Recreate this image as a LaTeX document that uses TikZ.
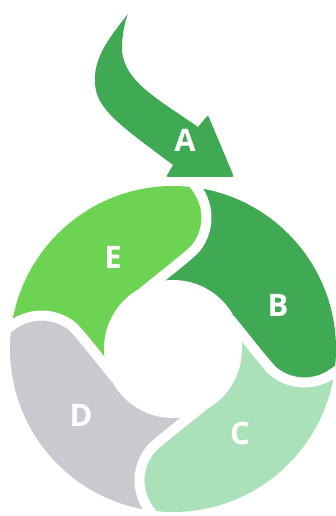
\documentclass[tikz,border=0pt]{standalone}
\usepackage{fontspec}
\setmainfont{Open Sans}
\usetikzlibrary{calc}
\definecolor{cygreen}{HTML}{3FA954}
\definecolor{cylime}{HTML}{6DD353}
\definecolor{cymint}{HTML}{ABE1B9}
\definecolor{cygray}{HTML}{C9CACF}

\begin{document}
\begin{tikzpicture}[
  x=1pt, y=1pt,
  lbl/.style={text=white, font=\fontsize{31}{31}\selectfont\bfseries, inner sep=0pt},
  gap/.style={draw=white, line width=10pt},
]
\useasboundingbox (-173,-167) rectangle (163,349);

% one S-shaped boundary, turned four times
\foreach \k in {0,1,2,3} {
  \begin{scope}[rotate=-90*\k]
    \coordinate (b\k-0) at (-30,57);
    \coordinate (b\k-1) at (-13,71);
    \coordinate (b\k-2) at (8,87);
    \coordinate (b\k-3) at (20,98);
    \coordinate (b\k-4) at (32,109);
    \coordinate (b\k-5) at (44,140);
    \coordinate (b\k-6) at (18,168);
    \coordinate (far\k) at (240,240);
  \end{scope}
}

% ring segments B, C, D, E
\begin{scope}
  \clip (0,0) circle (163pt);
  \foreach \k/\n/\col in {0/1/cygreen, 1/2/cymint, 2/3/cygray, 3/0/cylime} {
    \fill[\col] (b\k-0) .. controls (b\k-1) and (b\k-2) .. (b\k-3)
      .. controls (b\k-4) and (b\k-5) .. (b\k-6) -- (far\k) -- (b\n-6)
      .. controls (b\n-5) and (b\n-4) .. (b\n-3)
      .. controls (b\n-2) and (b\n-1) .. (b\n-0) -- (0,0) -- cycle;
  }
\end{scope}
\foreach \k in {0,1,2,3}
  \draw[gap] (b\k-0) .. controls (b\k-1) and (b\k-2) .. (b\k-3)
    .. controls (b\k-4) and (b\k-5) .. (b\k-6);
\fill[white] (0,0) circle (69pt);

% incoming arrow
\fill[cygreen] (-45,335) .. controls (-65,310) and (-80,290) .. (-78,265)
  .. controls (-76,240) and (-55,225) .. (0,184)
  [rounded corners=2pt] -- (-7,172) -- (61,172) -- (35,234) [sharp corners] -- (25,222)
  .. controls (-15,250) and (-50,268) .. (-51,300)
  .. controls (-51,315) and (-48,328) .. cycle;

\node[lbl] (a) at (12,209) {A};
\node[lbl] (b) at (105,44) {B};
\node[lbl] (c) at (67,-84) {C};
\node[lbl] (d) at (-92,-66) {D};
\node[lbl] (e) at (-60,92) {E};
\end{tikzpicture}
\end{document}
